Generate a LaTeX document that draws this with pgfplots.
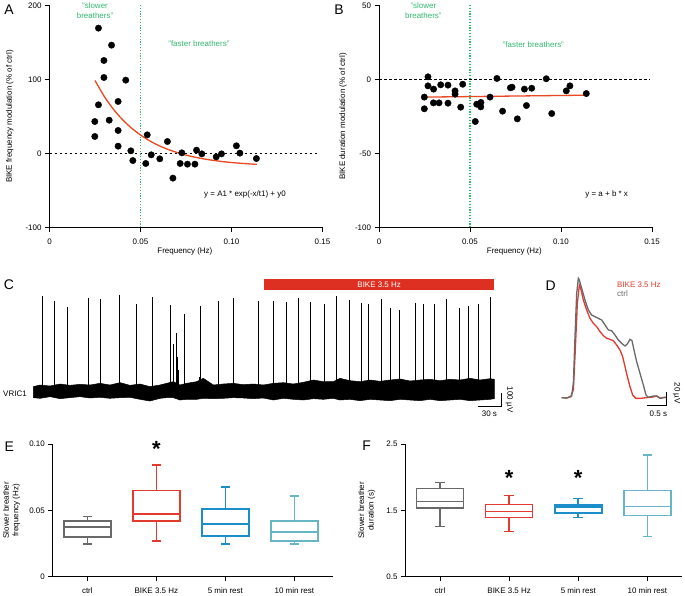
\documentclass[border=0pt]{standalone}
\usepackage{pgfplots}
\pgfplotsset{compat=1.18}
\usepgfplotslibrary{statistics}
\usepackage{fontspec}
\setmainfont{Liberation Sans}

\definecolor{grn}{RGB}{50,185,110}
\definecolor{fitred}{RGB}{235,72,32}
\definecolor{barred}{RGB}{222,48,34}
\definecolor{cgray}{RGB}{105,105,105}
\definecolor{cred}{RGB}{226,58,46}
\definecolor{cblue}{RGB}{28,142,202}
\definecolor{cteal}{RGB}{104,182,196}

\newcommand{\tf}{\fontsize{8}{9.5}\selectfont}
\newcommand{\lbl}{\fontsize{14}{14}\selectfont}
\newcommand{\sig}{\fontsize{22}{22}\selectfont\bfseries *}

\pgfplotsset{
  panel/.style={
    scale only axis, anchor=south west, clip=false,
    axis lines=left, axis line style={-, line width=0.9bp},
    tick align=outside, major tick length=4.5bp,
    every tick/.style={black, line width=0.9bp},
    tick label style={font=\tf},
    xticklabel style={yshift=-3.5bp},
    label style={font=\tf},
  },
  trace/.style={
    scale only axis, anchor=south west, clip=false, hide axis,
  },
  boxes/.style={
    boxplot/draw direction=y,
    boxplot/box extend=0.68, boxplot/whisker extend=0.14,
  },
}

\begin{document}
\begin{tikzpicture}
\useasboundingbox (0,0) rectangle (685bp,596bp);

% ---------------- A ----------------
\begin{axis}[panel, at={(49.5bp,368.5bp)}, width=273bp, height=222bp,
  xmin=0, xmax=0.15, ymin=-100, ymax=200,
  xtick={0,0.05,0.10,0.15}, xticklabels={0,0.05,0.10,0.15},
  ytick={-100,0,100,200}, yticklabels={-100,0,100,200},
  xlabel={Frequency (Hz)},
  ylabel={BIKE frequency modulation (\% of ctrl)},
  xlabel style={at={(axis description cs:0.496,-0.106)}, anchor=center},
  ylabel style={at={(axis description cs:-0.145,0.5)}, anchor=center},
]
\addplot[black, line width=0.6bp, dash pattern=on 2.5bp off 2.5bp] coordinates {(0,0) (0.147,0)};
\addplot[grn, line width=1.2bp, dash pattern=on 1.2bp off 1.6bp] coordinates {(0.05,-100) (0.05,200)};
\addplot[fitred, line width=1.3bp, smooth] coordinates {
  (0.025,98.6) (0.03,77.5) (0.035,60.2) (0.04,46.0) (0.045,34.5) (0.05,25.0)
  (0.055,17.2) (0.06,10.8) (0.065,5.6) (0.07,1.4) (0.075,-2.2) (0.08,-5.0)
  (0.085,-7.4) (0.09,-9.3) (0.095,-10.9) (0.10,-12.2) (0.105,-13.2) (0.11,-14.1) (0.114,-14.7)};
\addplot[only marks, mark=*, mark size=3.2bp, black] coordinates {
  (0.0269,169.4) (0.0341,146.4) (0.0299,125.7) (0.0299,102.7) (0.0419,99.1)
  (0.0269,65.8) (0.0377,70.3) (0.0249,43.2) (0.0328,45.0) (0.0377,31.1)
  (0.0249,23.0) (0.0377,9.9) (0.0447,3.6) (0.0458,-9.5) (0.0537,25.2)
  (0.0529,-13.5) (0.0559,-1.8) (0.0606,-7.2) (0.0648,16.2) (0.0678,-33.3)
  (0.0718,-13.5) (0.0727,0.9) (0.0758,-14.4) (0.0799,-14.4) (0.0808,4.5)
  (0.0837,-0.5) (0.0916,-4.5) (0.0945,-0.5) (0.1027,10.4) (0.1046,0.5) (0.1137,-6.8)};
\node[grn, align=center, font=\fontsize{8}{10.5}\selectfont] at (axis cs:0.025,193) {"slower\\breathers"};
\node[grn, font=\tf] at (axis cs:0.0821,148) {"faster breathers"};
\node[font=\tf] at (axis cs:0.1074,-54.7) {y = A1 * exp(-x/t1) + y0};
\end{axis}

% ---------------- B ----------------
\begin{axis}[panel, at={(379bp,368.5bp)}, width=273bp, height=222bp,
  xmin=0, xmax=0.15, ymin=-100, ymax=50,
  xtick={0,0.05,0.10,0.15}, xticklabels={0,0.05,0.10,0.15},
  ytick={-100,-50,0,50}, yticklabels={-100,-50,0,50},
  xlabel={Frequency (Hz)},
  ylabel={BIKE duration modulation (\% of ctrl)},
  xlabel style={at={(axis description cs:0.496,-0.106)}, anchor=center},
  ylabel style={at={(axis description cs:-0.132,0.5)}, anchor=center},
]
\addplot[black, line width=0.6bp, dash pattern=on 2.5bp off 2.5bp] coordinates {(0,0) (0.1489,0)};
\addplot[grn, line width=1.2bp, dash pattern=on 1.2bp off 1.6bp] coordinates {(0.05,-100) (0.05,50)};
\addplot[fitred, line width=1.3bp] coordinates {(0.025,-11.9) (0.114,-10.6)};
\addplot[only marks, mark=*, mark size=3.2bp, black] coordinates {
  (0.0269,1.8) (0.0269,-4.3) (0.0249,-11.9) (0.0249,-19.8) (0.0300,-6.5)
  (0.0299,-15.8) (0.0330,-15.8) (0.0339,-3.6) (0.0379,-3.8) (0.0379,-16.0)
  (0.0418,-7.7) (0.0418,-9.9) (0.0449,-18.7) (0.0460,-3.2) (0.0529,-28.4)
  (0.0537,-16.7) (0.0560,-15.5) (0.0559,-18.5) (0.0610,-11.9) (0.0648,0.7)
  (0.0679,-21.4) (0.0722,-5.6) (0.0731,-5.2) (0.0760,-26.6) (0.0799,-6.5)
  (0.0810,-17.6) (0.0839,-5.9) (0.0919,0.5) (0.0949,-23.0) (0.1029,-7.7)
  (0.1049,-4.3) (0.1139,-9.5)};
\node[grn, align=center, font=\fontsize{8}{10.5}\selectfont] at (axis cs:0.0244,46.5) {"slower\\breathers"};
\node[grn, font=\tf] at (axis cs:0.0848,23.7) {"faster breathers"};
\node[font=\tf] at (axis cs:0.1251,-77.9) {y = a + b * x};
\end{axis}

% ---------------- C ----------------
\begin{axis}[trace, at={(33.33bp,185.33bp)}, width=461bp, height=133bp,
  xmin=0, xmax=592.7, ymin=-150, ymax=900]
\addplot[fill=black, draw=black, line width=0.5bp] coordinates {
  (0,39.5) (8.57,52.6) (21.43,44.7) (34.29,60.5) (47.14,50.0) (60.0,57.9)
  (72.86,52.6) (85.71,65.8) (98.57,52.6) (111.43,71.1) (124.29,50.0) (137.14,60.5)
  (150.0,39.5) (162.86,52.6) (171.43,65.8) (180.0,78.9) (188.57,52.6) (197.14,65.8)
  (210.0,78.9) (218.57,105.3) (231.43,52.6) (244.29,60.5) (257.14,65.8) (270.0,55.3)
  (282.86,60.5) (295.71,52.6) (308.57,65.8) (321.43,71.1) (334.29,60.5) (347.14,73.7)
  (360.0,92.1) (372.86,78.9) (385.71,78.9) (394.29,105.3) (407.14,86.8) (420.0,78.9)
  (432.86,92.1) (445.71,81.6) (458.57,92.1) (471.43,100.0) (484.29,84.2) (497.14,92.1)
  (510.0,97.4) (522.86,86.8) (535.71,97.4) (548.57,92.1) (561.43,105.3) (574.29,92.1)
  (587.14,102.6) (592.71,97.4)
  (592.71,-55.3) (587.14,-60.5) (574.29,-65.8) (561.43,-71.1) (548.57,-60.5) (535.71,-65.8)
  (522.86,-71.1) (510.0,-60.5) (497.14,-71.1) (484.29,-65.8) (471.43,-60.5) (458.57,-71.1)
  (445.71,-65.8) (432.86,-60.5) (420.0,-71.1) (407.14,-60.5) (394.29,-65.8) (385.71,-52.6)
  (372.86,-60.5) (360.0,-55.3) (347.14,-65.8) (334.29,-60.5) (321.43,-52.6) (308.57,-65.8)
  (295.71,-50.0) (282.86,-55.3) (270.0,-50.0) (257.14,-47.4) (244.29,-52.6) (231.43,-55.3)
  (218.57,-52.6) (210.0,-60.5) (197.14,-60.5) (188.57,-65.8) (180.0,-47.4) (171.43,-47.4)
  (162.86,-52.6) (150.0,-73.7) (137.14,-60.5) (124.29,-44.7) (111.43,-47.4) (98.57,-52.6)
  (85.71,-44.7) (72.86,-50.0) (60.0,-39.5) (47.14,-47.4) (34.29,-55.3) (21.43,-39.5)
  (8.57,-52.6) (0,-47.4)} -- cycle;
\addplot[ycomb, black, line width=0.9bp] coordinates {
  (12.0,755) (26.6,716) (44.1,666) (71.1,737) (86.6,732) (111.0,763) (132.4,689)
  (153.0,745) (175.7,684) (180.0,376) (183.4,460) (185.1,276) (186.4,171)
  (193.7,611) (213.4,113) (214.3,676) (237.9,718) (257.6,737) (289.3,716) (308.1,718)
  (325.3,708) (341.1,739) (356.6,705) (373.7,695) (390.0,753) (406.3,726)
  (421.7,697) (431.1,695) (447.0,732) (459.4,663) (471.0,645) (491.6,700)
  (501.9,695) (516.0,695) (531.4,732) (547.7,661) (559.7,674) (572.1,689) (588.0,747)};
\addplot[fill=barred, draw=none] coordinates {(296.6,802.6) (592.7,802.6) (592.7,886.8) (296.6,886.8)} -- cycle;
\node[white, font=\tf] at (axis cs:444.6,844.7) {BIKE 3.5 Hz};
\addplot[black, line width=0.9bp] coordinates {(571.3,-113) (601.3,-113) (601.3,-13)};
\node[font=\tf] at (axis cs:586.3,-171) {30 s};
\node[font=\tf, rotate=-90] at (axis cs:612,-63) {100 µV};
\node[font=\tf, anchor=east] at (axis cs:-4,-13) {VRIC1};
\end{axis}

% ---------------- D ----------------
\begin{axis}[trace, at={(561.67bp,189.93bp)}, width=105bp, height=128.8bp,
  xmin=0, xmax=2.625, ymin=-12, ymax=172]
\addplot[cred, line width=1.3bp] coordinates {
  (0,0) (0.125,-0.5) (0.225,1.4) (0.292,11.0) (0.333,58.6) (0.392,134.8) (0.442,161.0)
  (0.475,156.2) (0.542,139.5) (0.625,125.2) (0.708,113.3) (0.792,106.2) (0.875,101.4)
  (0.958,94.3) (1.042,88.6) (1.125,84.8) (1.208,83.3) (1.292,81.4) (1.375,75.2)
  (1.458,68.1) (1.525,58.6) (1.583,44.3) (1.642,30.0) (1.708,15.7) (1.775,3.8)
  (1.858,-1.0) (1.958,-1.0) (2.125,0) (2.292,1.0) (2.375,2.4) (2.458,-0.5) (2.583,0.5) (2.625,0)};
\addplot[cgray, line width=1.3bp] coordinates {
  (0,0) (0.125,-0.5) (0.25,2.4) (0.292,20.5) (0.333,87.1) (0.375,149.0) (0.417,170.5)
  (0.442,168.1) (0.5,156.2) (0.583,139.5) (0.667,125.2) (0.75,118.1) (0.833,115.7)
  (0.917,113.3) (1.0,111.0) (1.083,103.8) (1.167,96.7) (1.25,95.7) (1.333,89.5)
  (1.417,82.4) (1.5,77.6) (1.583,73.8) (1.642,76.7) (1.708,83.3) (1.758,81.4)
  (1.808,68.1) (1.875,51.4) (1.958,34.8) (2.042,18.1) (2.108,3.8) (2.167,0.5)
  (2.292,2.4) (2.375,2.4) (2.458,-1.0) (2.583,0.5) (2.625,-0.5)};
\addplot[black, line width=0.9bp] coordinates {(2.125,-11.4) (2.625,-11.4) (2.625,8.6)};
\node[font=\tf] at (axis cs:2.417,-22.4) {0.5 s};
\node[font=\tf, rotate=-90] at (axis cs:2.875,6.2) {20 µV};
\node[font=\tf, cred, anchor=west] at (axis cs:1.30,161) {BIKE 3.5 Hz};
\node[font=\tf, cgray, anchor=west] at (axis cs:1.30,148) {ctrl};
\end{axis}

% ---------------- E ----------------
\begin{axis}[panel, boxes, at={(52.83bp,19.33bp)}, width=280.5bp, height=132.67bp,
  xmin=0.5, xmax=4.565, ymin=0, ymax=0.10,
  xtick={1,2,3,4}, xticklabels={ctrl,BIKE 3.5 Hz,5 min rest,10 min rest},
  ytick={0,0.05,0.10}, yticklabels={0,0.05,0.10},
  ylabel={Slower breather\\frequency (Hz)},
  ylabel style={at={(axis description cs:-0.147,0.5)}, anchor=center, align=center},
]
\addplot[cgray, line width=1.6bp, boxplot prepared={draw position=1,
  lower whisker=0.0248, lower quartile=0.0298, median=0.0375, upper quartile=0.042, upper whisker=0.0455}] coordinates {};
\addplot[cred, line width=1.6bp, boxplot prepared={draw position=2,
  lower whisker=0.027, lower quartile=0.0418, median=0.0473, upper quartile=0.0648, upper whisker=0.084}] coordinates {};
\addplot[cblue, line width=1.6bp, boxplot prepared={draw position=3,
  lower whisker=0.0248, lower quartile=0.0305, median=0.0398, upper quartile=0.0508, upper whisker=0.0678}] coordinates {};
\addplot[cteal, line width=1.6bp, boxplot prepared={draw position=4,
  lower whisker=0.0248, lower quartile=0.0268, median=0.0335, upper quartile=0.042, upper whisker=0.0608}] coordinates {};
\node[yshift=-5bp] at (axis cs:2,0.10) {\sig};
\end{axis}

% ---------------- F ----------------
\begin{axis}[panel, boxes, at={(405.5bp,19.33bp)}, width=276.4bp, height=132.67bp,
  xmin=0.5, xmax=4.5, ymin=0.5, ymax=2.5,
  xtick={1,2,3,4}, xticklabels={ctrl,BIKE 3.5 Hz,5 min rest,10 min rest},
  ytick={0.5,1.5,2.5}, yticklabels={0.5,1.5,2.5},
  ylabel={Slower breather\\duration (s)},
  ylabel style={at={(axis description cs:-0.140,0.5)}, anchor=center, align=center},
]
\addplot[cgray, line width=1.6bp, boxplot prepared={draw position=1,
  lower whisker=1.259, lower quartile=1.535, median=1.631, upper quartile=1.827, upper whisker=1.917}] coordinates {};
\addplot[cred, line width=1.6bp, boxplot prepared={draw position=2,
  lower whisker=1.183, lower quartile=1.394, median=1.485, upper quartile=1.590, upper whisker=1.726}] coordinates {};
\addplot[cblue, line width=1.6bp, boxplot prepared={draw position=3,
  lower whisker=1.394, lower quartile=1.460, median=1.550, upper quartile=1.580, upper whisker=1.676}] coordinates {};
\addplot[cteal, line width=1.6bp, boxplot prepared={draw position=4,
  lower whisker=1.103, lower quartile=1.425, median=1.560, upper quartile=1.796, upper whisker=2.33}] coordinates {};
\node[yshift=-5bp] at (axis cs:2,2.06) {\sig};
\node[yshift=-5bp] at (axis cs:3,2.06) {\sig};
\end{axis}

% panel letters
\node[font=\lbl] at (9bp,586bp) {A};
\node[font=\lbl] at (339bp,586bp) {B};
\node[font=\lbl] at (9bp,311bp) {C};
\node[font=\lbl] at (550.7bp,310bp) {D};
\node[font=\lbl] at (9.3bp,149.3bp) {E};
\node[font=\lbl] at (366.7bp,150bp) {F};
\end{tikzpicture}
\end{document}
